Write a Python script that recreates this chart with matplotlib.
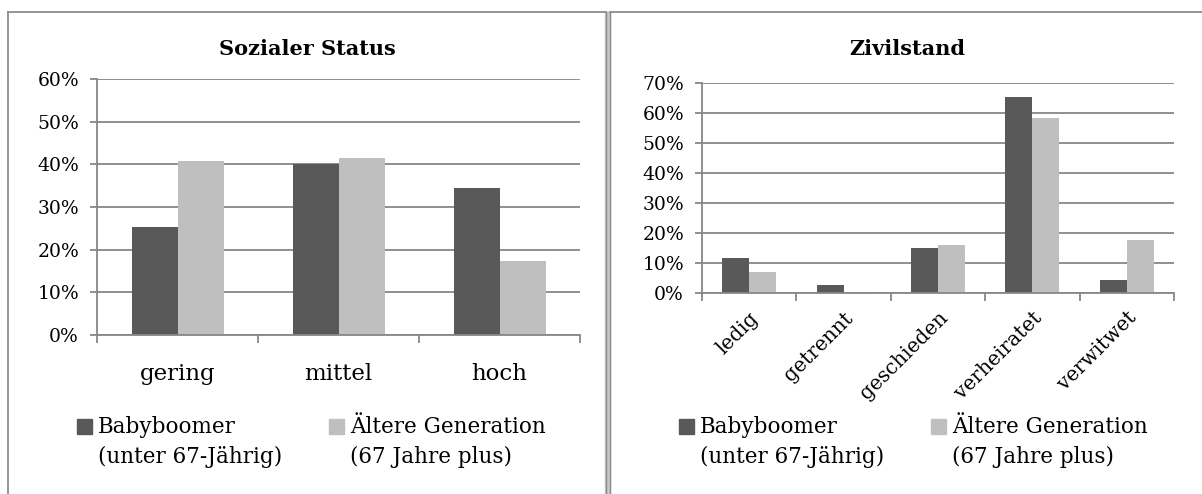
import numpy as np
import matplotlib
matplotlib.use("Agg")
import matplotlib.pyplot as plt
from matplotlib.patches import Rectangle
from matplotlib.lines import Line2D
from matplotlib.ticker import PercentFormatter, FixedLocator

# data
status_cats = ["gering", "mittel", "hoch"]
status_boomer = [0.253, 0.401, 0.344]
status_older = [0.408, 0.415, 0.173]

civil_cats = ["ledig", "getrennt", "geschieden", "verheiratet", "verwitwet"]
civil_boomer = [0.117, 0.027, 0.150, 0.654, 0.045]
civil_older = [0.070, 0.005, 0.161, 0.582, 0.177]

series_names = ["Babyboomer\n(unter 67-Jährig)", "Ältere Generation\n(67 Jahre plus)"]

DARK = "#595959"
LIGHT = "#bfbfbf"
GRID = "#878787"
FONT = "DejaVu Serif"

W, H = 1202, 494
fig = plt.figure(figsize=(W / 100, H / 100), dpi=100)
plt.rcParams["font.family"] = FONT


def fx(px):
    return px / W


def fy(py):
    return 1 - py / H


def make_axes(box, ymax, cats, a, b, rotate):
    x0, y0, x1, y1 = box
    ax = fig.add_axes([fx(x0), fy(y1), fx(x1) - fx(x0), fy(y0) - fy(y1)])
    n = len(cats)
    x = np.arange(n)
    w = 1 / 3.5
    ax.bar(x - w / 2, a, w, color=DARK, zorder=3)
    ax.bar(x + w / 2, b, w, color=LIGHT, zorder=3)
    ax.set_xlim(-0.5, n - 0.5)
    ax.set_ylim(0, ymax)
    ax.yaxis.set_major_locator(FixedLocator(np.arange(0, ymax + 0.001, 0.1)))
    ax.yaxis.set_major_formatter(PercentFormatter(1.0, decimals=0))
    ax.grid(axis="y", color=GRID, linewidth=1.3, zorder=0)
    for s in ["top", "right"]:
        ax.spines[s].set_visible(False)
    for s in ["left", "bottom"]:
        ax.spines[s].set_color(GRID)
        ax.spines[s].set_linewidth(1.3)
        ax.spines[s].set_zorder(4)
    ax.tick_params(axis="y", colors=GRID, labelcolor="black", length=5,
                   width=1.3, labelsize=13.5, pad=8)
    ax.set_xticks(x)
    ax.set_xticks(np.arange(n + 1) - 0.5, minor=True)
    ax.tick_params(axis="x", which="major", length=0)
    ax.tick_params(axis="x", which="minor", length=6, width=1.3, colors=GRID)
    if rotate:
        ax.set_xticklabels(cats, rotation=45, ha="right", va="top",
                           rotation_mode="anchor", fontsize=14.5)
        ax.tick_params(axis="x", which="major", pad=11)
    else:
        ax.set_xticklabels(cats, fontsize=16.5)
        ax.tick_params(axis="x", which="major", pad=20)
    return ax


make_axes((97, 79, 580, 335), 0.6, status_cats, status_boomer, status_older, False)
make_axes((702, 83, 1174, 293), 0.7, civil_cats, civil_boomer, civil_older, True)

fig.text(fx(307), fy(49), "Sozialer Status", ha="center", va="center",
         fontsize=15, fontweight="bold")
fig.text(fx(907), fy(49), "Zivilstand", ha="center", va="center",
         fontsize=15, fontweight="bold")

# legends
def legend_at(sq1, sq2):
    for sx, col, label in [(sq1, DARK, series_names[0]), (sq2, LIGHT, series_names[1])]:
        fig.patches.append(Rectangle((fx(sx), fy(434)), fx(15), 15 / H,
                                     transform=fig.transFigure, color=col))
        fig.text(fx(sx + 21), fy(416), label, ha="left", va="top",
                 fontsize=15.5, linespacing=1.45)


legend_at(77, 329)
legend_at(679, 931)

# chart frames
fc = "#8c8c8c"
fig.lines.append(Line2D([fx(8), fx(8)], [0, fy(12)], color=fc, lw=1.3, transform=fig.transFigure))
fig.lines.append(Line2D([fx(8), fx(606)], [fy(12), fy(12)], color=fc, lw=1.3, transform=fig.transFigure))
fig.lines.append(Line2D([fx(610), 1], [fy(12), fy(12)], color=fc, lw=1.3, transform=fig.transFigure))
fig.patches.append(Rectangle((fx(605), 0), fx(5), fy(12), transform=fig.transFigure,
                             color="#c8c8c8"))
fig.lines.append(Line2D([fx(605.5), fx(605.5)], [0, fy(12)], color=fc, lw=1.0, transform=fig.transFigure))
fig.lines.append(Line2D([fx(609.5), fx(609.5)], [0, fy(12)], color=fc, lw=1.0, transform=fig.transFigure))

fig.savefig("out.png", dpi=100)
